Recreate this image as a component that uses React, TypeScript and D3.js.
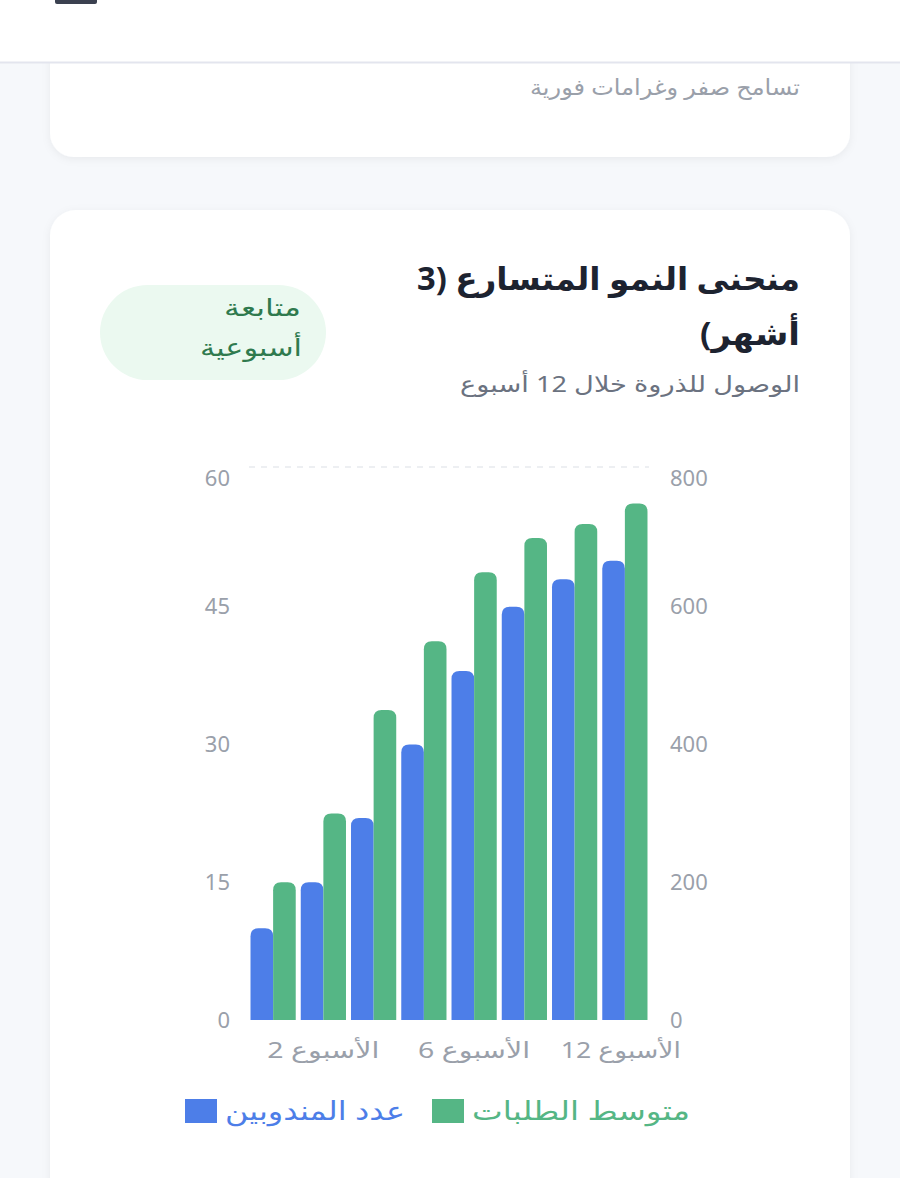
import * as d3 from 'd3'

// بيانات المخطط
const weeks = ['الأسبوع 1', 'الأسبوع 2', 'الأسبوع 3', 'الأسبوع 4', 'الأسبوع 6', 'الأسبوع 8', 'الأسبوع 10', 'الأسبوع 12']
const drivers = [10, 15, 22, 30, 38, 45, 48, 50]
const orders = [200, 300, 450, 550, 650, 700, 720, 750]
const leftTicks = [0, 15, 30, 45, 60]
const rightTicks = [0, 200, 400, 600, 800]

const BLUE = '#4d7ee8'
const GREEN = '#55b685'
const FONT = '"Noto Sans", "DejaVu Sans", sans-serif'
const rtl = { direction: 'rtl' as const }

const topRoundedBar = (x: number, y: number, w: number, h: number, r: number) => {
  const rr = Math.min(r, w / 2, h)
  return `M${x},${y + h}V${y + rr}Q${x},${y} ${x + rr},${y}H${x + w - rr}Q${x + w},${y} ${x + w},${y + rr}V${y + h}Z`
}

export default function App() {
  const W = 900
  const H = 1178
  const plot = { left: 249, right: 649, top: 469, bottom: 1020 }

  const x0 = d3.scaleBand<string>().domain(weeks).range([plot.left, plot.right]).paddingInner(0.1).paddingOuter(0.03)
  const x1 = d3.scaleBand<string>().domain(['drivers', 'orders']).range([0, x0.bandwidth()])
  const yL = d3.scaleLinear().domain([0, 60]).range([plot.bottom, plot.top])
  const yR = d3.scaleLinear().domain([0, 800]).range([plot.bottom, plot.top])

  return (
    <div style={{ position: 'absolute', top: 0, left: 0 }}>
      <svg width={W} height={H} style={{ display: 'block', fontFamily: FONT }}>
        <defs>
          <filter id="sh" x="-10%" y="-10%" width="120%" height="120%">
            <feDropShadow dx="0" dy="2" stdDeviation="4" floodColor="#000" floodOpacity="0.06" />
          </filter>
        </defs>
        <rect width={W} height={H} fill="#f6f8fb" />

        {/* البطاقة الأولى */}
        <rect x={50} y={-60} width={800} height={217} rx={24} fill="#fff" filter="url(#sh)" />
        <text x={800} y={95} fill="#9aa0aa" fontSize={22} style={rtl} textAnchor="start" textLength={270} lengthAdjust="spacingAndGlyphs">
          تسامح صفر وغرامات فورية
        </text>

        {/* الترويسة */}
        <rect x={0} y={0} width={W} height={62} fill="#fff" />
        <line x1={0} x2={W} y1={62.5} y2={62.5} stroke="#e3e5ee" strokeWidth={2} />
        <rect x={55} y={-4} width={42} height={8} rx={2} fill="#3b4150" />

        {/* البطاقة الثانية */}
        <rect x={50} y={210} width={800} height={1040} rx={26} fill="#fff" filter="url(#sh)" />
        <text x={800} y={290} fill="#1d2330" fontSize={32} fontWeight={700} style={rtl} textAnchor="start" textLength={383} lengthAdjust="spacingAndGlyphs">
          منحنى النمو المتسارع (3
        </text>
        <text x={800} y={345} fill="#1d2330" fontSize={32} fontWeight={700} style={rtl} textAnchor="start" textLength={100} lengthAdjust="spacingAndGlyphs">
          أشهر)
        </text>
        <text x={800} y={392} fill="#6b7280" fontSize={22} style={rtl} textAnchor="start" textLength={340} lengthAdjust="spacingAndGlyphs">
          الوصول للذروة خلال 12 أسبوع
        </text>

        <rect x={100} y={285} width={226} height={95} rx={47.5} fill="#ebf9f0" />
        <text x={301} y={316} fill="#2f7a4e" fontSize={24} style={rtl} textAnchor="start" textLength={77} lengthAdjust="spacingAndGlyphs">متابعة</text>
        <text x={302} y={356} fill="#2f7a4e" fontSize={24} style={rtl} textAnchor="start" textLength={102} lengthAdjust="spacingAndGlyphs">أسبوعية</text>

        {/* الشبكة */}
        <line x1={plot.left} x2={plot.right} y1={yL(60) - 2} y2={yL(60) - 2} stroke="#e8eaee" strokeWidth={1.5} strokeDasharray="6 6" />

        {/* المحاور */}
        {leftTicks.map(t => (
          <text key={'l' + t} x={230} y={Math.max(yL(t), 478)} dy="0.35em" textAnchor="end" fill="#9aa0aa" fontSize={22}>{t}</text>
        ))}
        {rightTicks.map(t => (
          <text key={'r' + t} x={670} y={Math.max(yR(t), 478)} dy="0.35em" textAnchor="start" fill="#9aa0aa" fontSize={22}>{t}</text>
        ))}
        {weeks.map((w, i) => i % 3 === 1 ? (
          <text key={w} x={(x0(w) || 0) + x0.bandwidth() / 2 + 56} y={1058} textAnchor="start" fill="#9aa0aa" fontSize={22} style={rtl}
            textLength={w.length > 9 ? 120 : 112} lengthAdjust="spacingAndGlyphs">{w}</text>
        ) : null)}

        {/* الأعمدة */}
        {weeks.map((w, i) => {
          const gx = x0(w) || 0
          const bw = x1.bandwidth()
          const bx = gx + (x1('drivers') || 0)
          const gx2 = gx + (x1('orders') || 0)
          return (
            <g key={'b' + w}>
              <path d={topRoundedBar(bx, yL(drivers[i]), bw, plot.bottom - yL(drivers[i]), 8)} fill={BLUE} />
              <path d={topRoundedBar(gx2, yR(orders[i]), bw, plot.bottom - yR(orders[i]), 8)} fill={GREEN} />
            </g>
          )
        })}

        {/* وسيلة الإيضاح */}
        <rect x={185} y={1099} width={32} height={24} fill={BLUE} />
        <text x={405} y={1120} fill={BLUE} fontSize={26} style={rtl} textAnchor="start" textLength={180} lengthAdjust="spacingAndGlyphs">عدد المندوبين</text>
        <rect x={432} y={1099} width={32} height={24} fill={GREEN} />
        <text x={690} y={1120} fill={GREEN} fontSize={26} style={rtl} textAnchor="start" textLength={218} lengthAdjust="spacingAndGlyphs">متوسط الطلبات</text>
      </svg>
    </div>
  )
}
